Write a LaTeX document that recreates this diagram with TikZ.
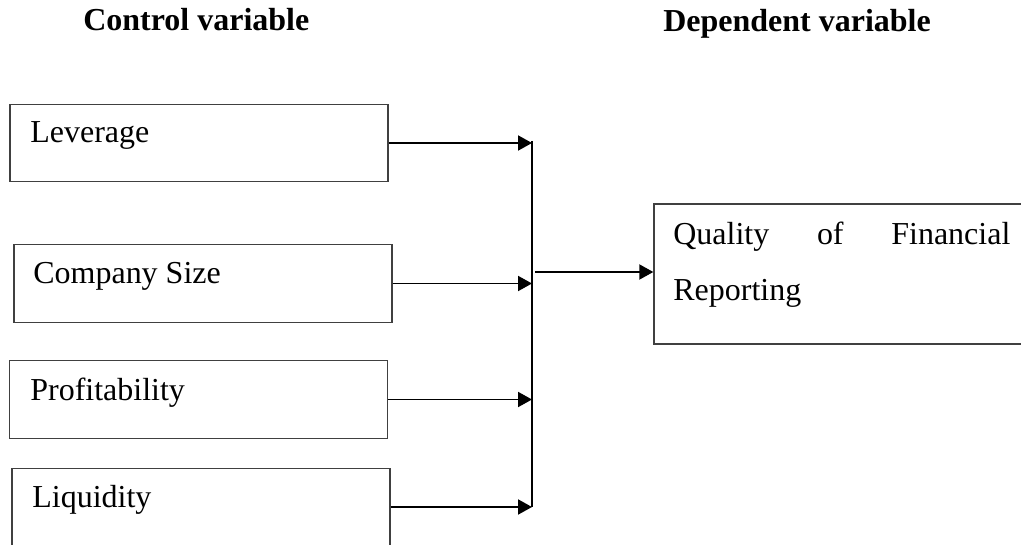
\documentclass[tikz,border=0pt]{standalone}
\usepackage{fontspec}
\setmainfont{Liberation Serif}
\usepackage{tikz}
\usetikzlibrary{positioning,calc,arrows.meta}

\begin{document}
\begin{tikzpicture}[
    varbox/.style={draw=black!75, line width=0.8pt, minimum width=7.56cm, minimum height=1.55cm},
    varlab/.style={anchor=base west, inner sep=0pt, font=\fontsize{18.2}{31.3}\selectfont\rmfamily},
    headlab/.style={anchor=base west, inner sep=0pt, font=\fontsize{18.2}{22}\selectfont\rmfamily\bfseries},
    arrow/.style={-{Triangle[length=0.28cm, width=0.3cm]}, line width=1.1pt},
]
\clip (0,0) rectangle (20.42,10.88);

% Headings
\node[headlab] (hctl) at (1.66, 10.26) {Control variable};
\node[headlab] (hdep) at (13.26, 10.24) {Dependent variable};

% Control variables
\node[varbox] (lev) at (3.98, 8.02) {};
\node[varlab] (levt) at (0.6, 8.02) {Leverage};
\node[varbox] (size) at (4.06, 5.21) {};
\node[varlab] (sizet) at (0.66, 5.22) {Company Size};
\node[varbox] (prof) at (3.975, 2.89) {};
\node[varlab] (proft) at (0.6, 2.88) {Profitability};
\node[varbox] (liq) at (4.02, 0.74) {};
\node[varlab] (liqt) at (0.64, 0.74) {Liquidity};

% Dependent variable
\node[varbox, minimum width=7.4cm, minimum height=2.8cm] (qfr) at (16.78, 5.4) {};
\node[varlab, text width=6.74cm, align=left] (qfrt) at (13.46, 5.98) {Quality\hfill of\hfill Financial\\Reporting};

% Collecting line
\coordinate (bustop) at (10.64, 8.06);
\coordinate (busbot) at (10.64, 0.74);
\draw[line width=1.1pt] (bustop) -- (busbot);
\draw[arrow] (lev.east) -- (lev.east -| bustop);
\draw[arrow] (size.east) -- (size.east -| bustop);
\draw[arrow] (prof.east) -- (prof.east -| bustop);
\draw[arrow] (liq.east) -- (liq.east -| bustop);

% Into dependent variable
\coordinate (split) at (10.7, 5.44);
\draw[arrow] (split) -- (split -| qfr.west);
\end{tikzpicture}
\end{document}
